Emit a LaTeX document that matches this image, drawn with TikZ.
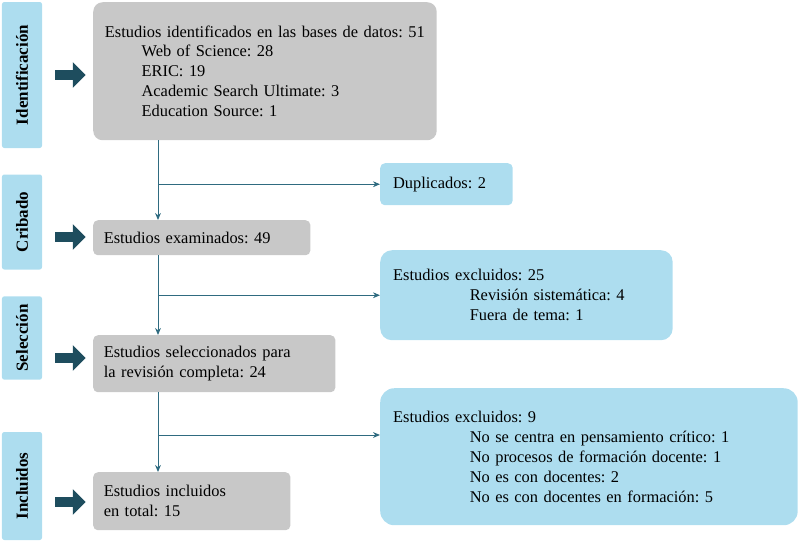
\documentclass[tikz,border=0pt]{standalone}
\usepackage{fontspec}
\setmainfont{Liberation Serif}
\usetikzlibrary{shapes.arrows,calc,arrows.meta}
\definecolor{boxgray}{HTML}{C8C8C8}
\definecolor{boxblue}{HTML}{ADDDEF}
\definecolor{darkteal}{HTML}{1E4D5E}
\definecolor{lineteal}{HTML}{2F6B80}
\frenchspacing
\tikzset{
    %Define standard arrow tip
    >={Stealth[length=6pt,width=5pt]},
    %Define style for boxes
    punkt/.style={
           rectangle,
           rounded corners=8pt,
           fill=boxgray,
           align=left,
           anchor=north west,
           inner xsep=9pt,
           font=\fontsize{14}{17}\selectfont},
    side/.style={
           rectangle,
           rounded corners=2pt,
           fill=boxblue,
           rotate=90,
           font=\bfseries\fontsize{14.5}{16}\selectfont},
    excl/.style={
           punkt,
           fill=boxblue},
    % Define arrow style
    pil/.style={
           ->,
           draw=lineteal,
           thick},
    blockpil/.style={
           single arrow,
           fill=darkteal,
           minimum width=22pt,
           single arrow head extend=2pt,
           minimum height=26pt,
           inner sep=1pt}
}
\begin{document}
\begin{tikzpicture}[x=0.03cm, y=-0.03cm]
 \useasboundingbox (0,0) rectangle (800,550);
 % side labels
 \node [side, minimum width=4.38cm, minimum height=1.2cm] (sid) at (22,75) {Identificación};
 \node [side, minimum width=2.85cm, minimum height=1.2cm] (scr) at (22,222) {Cribado};
 \node [side, minimum width=2.5cm, minimum height=1.2cm] (ssel) at (22,338) {Selección};
 \node [side, minimum width=3.24cm, minimum height=1.2cm] (sinc) at (22,486) {Incluidos};

 % block arrows
 \node [blockpil] (a1) at (68,75) {};
 \node [blockpil] (a2) at (68,237) {};
 \node [blockpil] (a3) at (68,358) {};
 \node [blockpil] (a4) at (68,502) {};

 % main column
 \node [punkt, inner xsep=10pt, text width=9.6cm, minimum height=4.14cm] (ident) at (93,2)
 {Estudios identificados en las bases de datos: 51\\
  \hspace*{1.1cm}Web of Science: 28\\
  \hspace*{1.1cm}ERIC: 19\\
  \hspace*{1.1cm}Academic Search Ultimate: 3\\
  \hspace*{1.1cm}Education Source: 1};
 \node [punkt, text width=5.88cm, minimum height=1.05cm, rounded corners=4pt] (exam) at (93,220) {Estudios examinados: 49};
 \node [punkt, text width=6.63cm, minimum height=1.71cm, rounded corners=4pt] (sel) at (93,335)
 {Estudios seleccionados para\\la revisión completa: 24};
 \node [punkt, text width=5.28cm, minimum height=1.74cm, rounded corners=4pt] (inc) at (93,472)
 {Estudios incluidos\\en total: 15};

 % exclusion boxes
 \node [excl, inner xsep=11pt, text width=3.2cm, minimum height=1.26cm, rounded corners=4pt] (dup) at (380,163) {Duplicados: 2};
 \node [excl, inner xsep=11pt, text width=8.0cm, minimum height=2.7cm, rounded corners=10pt] (ex1) at (380,250)
 {Estudios excluidos: 25\\
  \hspace*{2.3cm}Revisión sistemática: 4\\
  \hspace*{2.3cm}Fuera de tema: 1};
 \node [excl, inner xsep=11pt, text width=11.75cm, minimum height=4.11cm, rounded corners=12pt] (ex2) at (380,388)
 {Estudios excluidos: 9\\
  \hspace*{2.3cm}No se centra en pensamiento crítico: 1\\
  \hspace*{2.3cm}No procesos de formación docente: 1\\
  \hspace*{2.3cm}No es con docentes: 2\\
  \hspace*{2.3cm}No es con docentes en formación: 5};

 % paths
 \coordinate (spine) at (158,0);
 \coordinate (b3) at (158,435);
 \draw [pil] (ident.south -| spine) -- (exam.north -| spine);
 \draw [pil] (exam.south -| spine) -- (sel.north -| spine);
 \draw [pil] (sel.south -| spine) -- (inc.north -| spine);
 \draw [pil] (dup.west -| spine) -- (dup.west);
 \draw [pil] (ex1.west -| spine) -- (ex1.west);
 \draw [pil] (b3) -- (b3 -| ex2.west);
\end{tikzpicture}
\end{document}
